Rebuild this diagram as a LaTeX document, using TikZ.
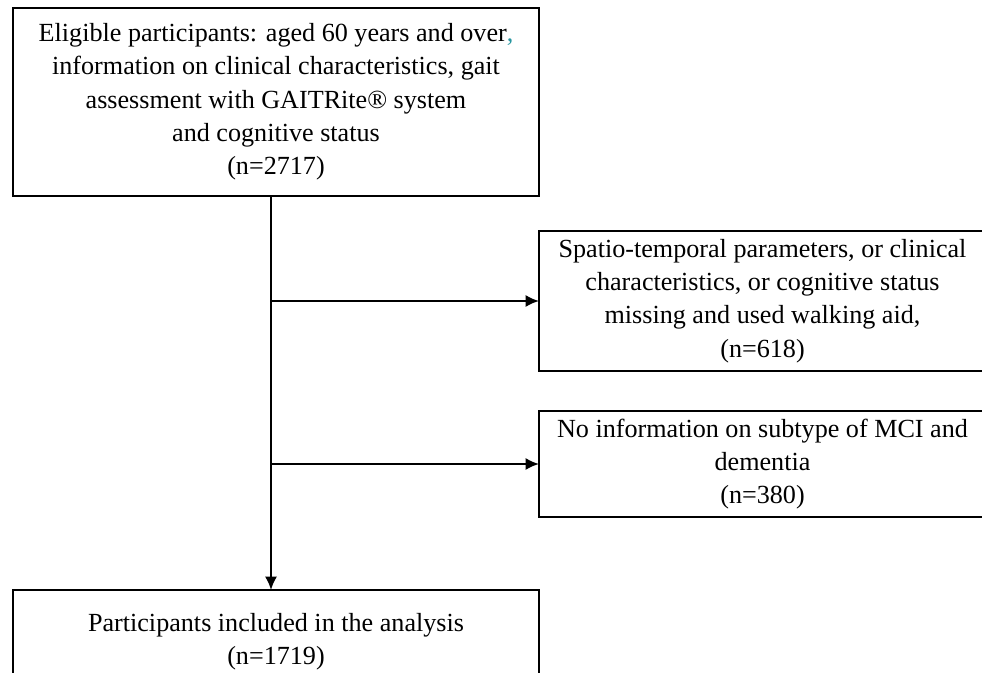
\documentclass[tikz,border=0pt]{standalone}
\usepackage{fontspec}
\setmainfont{Liberation Serif}
\usepackage{xcolor}
\usetikzlibrary{positioning,arrows.meta}
\definecolor{commateal}{RGB}{40,150,160}

\tikzset{
  flowbox/.style={draw,line width=1.4pt,rectangle,anchor=north west,align=center,
    inner sep=0pt,outer sep=0pt,font=\fontsize{19.6}{25}\selectfont},
  flowarrow/.style={line width=1.4pt,-{Latex[length=10pt,width=9pt]}}
}

\begin{document}
\begin{tikzpicture}[x=0.75pt,y=-0.75pt]
      \useasboundingbox (0,0) rectangle (982,672);
      \clip (0,0) rectangle (982,672);

      \node[flowbox,minimum width=526*0.75pt,minimum height=188*0.75pt] (elig) at (13,8)
        {Eligible participants: aged 60 years and over{\color{commateal},}\\
         information on clinical characteristics, gait\\
         assessment with GAITRite\textregistered\ system\\
         and cognitive status\\
         (n=2717)};

      \node[flowbox,minimum width=447*0.75pt,minimum height=140*0.75pt] (miss) at (539,231)
        {Spatio-temporal parameters, or clinical\\
         characteristics, or cognitive status\\
         missing and used walking aid,\\
         (n=618)};

      \node[flowbox,minimum width=447*0.75pt,minimum height=106*0.75pt] (nosub) at (539,411)
        {No information on subtype of MCI and\\
         dementia\\
         (n=380)};

      \node[flowbox,minimum width=526*0.75pt,minimum height=104*0.75pt] (incl) at (13,590)
        {Participants included in the analysis\\
         (n=1719)};

      \coordinate (b1) at (271,301);
      \coordinate (b2) at (271,464);

      \draw[flowarrow] ([xshift=-3.75pt]elig.south) -- ([xshift=-3.75pt]incl.north);
      \draw[flowarrow] (b1) -- (miss.west);
      \draw[flowarrow] (b2) -- (nosub.west);
    \end{tikzpicture}
\end{document}
